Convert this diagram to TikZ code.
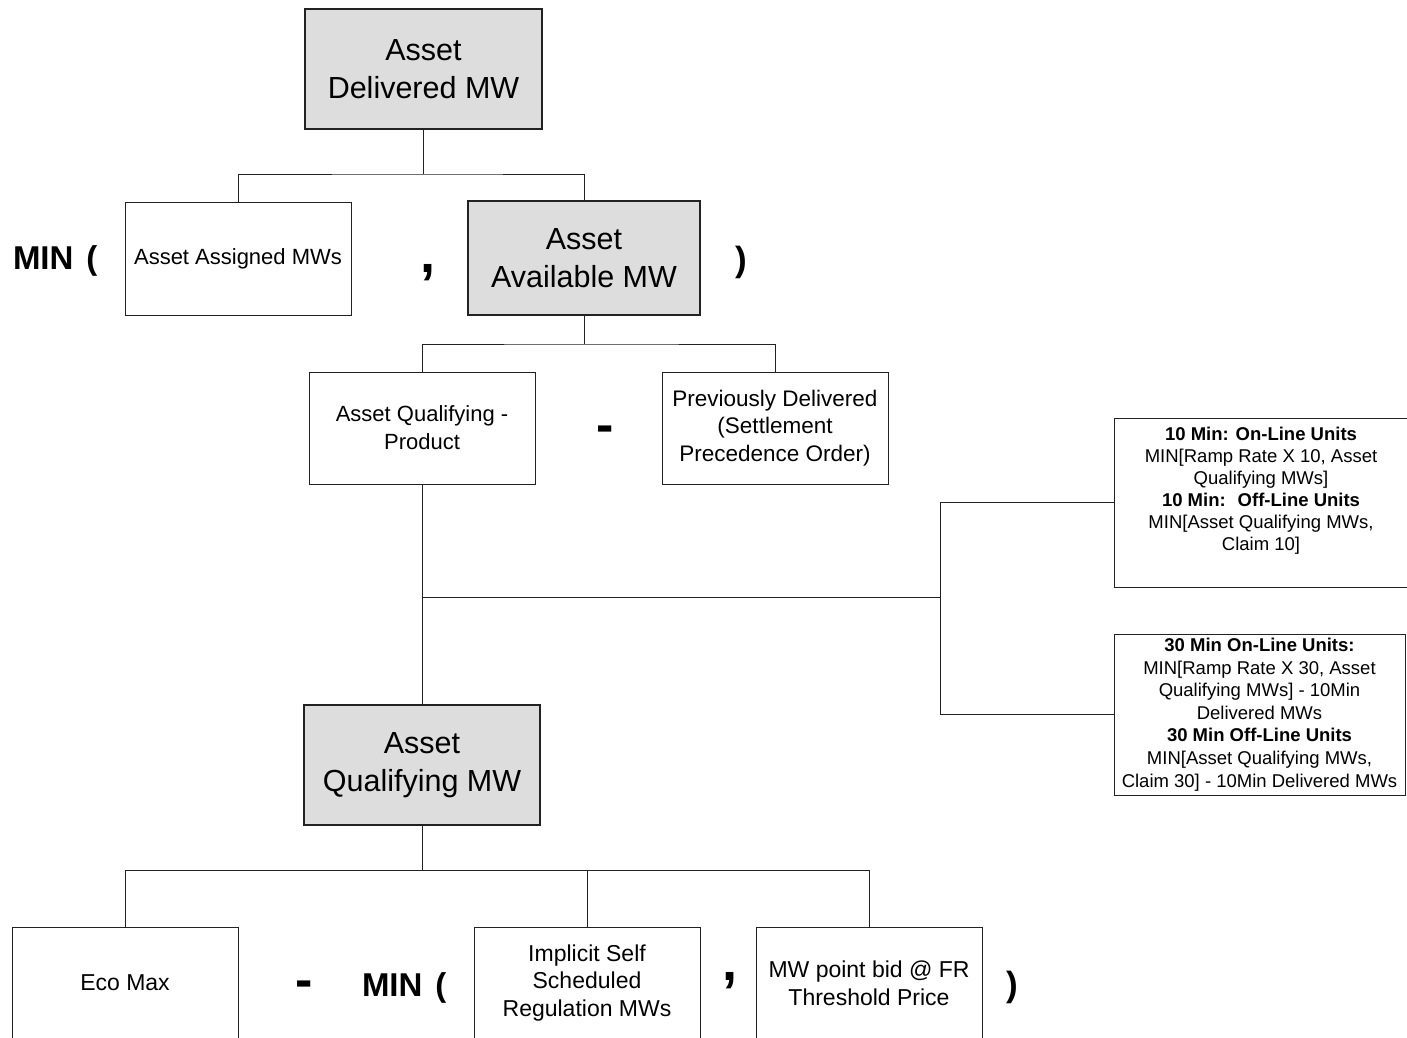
\documentclass[tikz,border=0pt]{standalone}
\usepackage{fontspec}
\setmainfont{Liberation Sans}
\definecolor{boxgray}{HTML}{DDDDDD}
\definecolor{linegray}{HTML}{222222}
\begin{document}
\begin{tikzpicture}[x=1pt,y=-1pt,
  every node/.style={inner sep=0pt, outer sep=0pt, align=center},
  sz/.style 2 args={font=\fontsize{#1}{#2}\selectfont},
  dims/.style 2 args={minimum width=#1, minimum height=#2},
  graybox/.style={draw=linegray, line width=2.4pt, fill=boxgray, sz={30.5}{38}},
  plainbox/.style={draw=linegray, line width=1pt, fill=white},
  conn/.style={draw=linegray, line width=1pt},
  op/.style={font=\bfseries\fontsize{#1}{#1}\selectfont, anchor=base},
]
\useasboundingbox (0,0) rectangle (1407,1037);
\fill[white] (0,0) rectangle (1407,1037);
\clip (0,0) rectangle (1407,1037);

% ---- level 1
\node[graybox, dims={237}{120}] (deliv) at (423.5,69) {Asset\\Delivered MW};

% ---- level 2: MIN( assigned , available )
\node[plainbox, dims={226}{113}, sz={22}{27}] (assign) at (238,258.5) {Asset Assigned MWs};
\node[graybox, dims={232}{114}] (avail) at (584,258) {Asset\\Available MW};
\node[op=33, anchor=base west] (min1) at (13,269) {MIN\hspace{13pt}(};
\node[op=54] (comma1) at (428,272) {,};
\node[op=35] (close1) at (741,271) {)};

% ---- level 3: qualifying product - previously delivered
\node[plainbox, dims={226}{112}, sz={22}{28}] (aqp) at (422,428) {Asset Qualifying -\\Product};
\node[plainbox, dims={226}{112}, sz={22.5}{27.5}] (prev) at (775,428) {Previously Delivered\\(Settlement\\Precedence Order)};
\node[op=52] (minus1) at (605,442) {-};

% ---- reserve product boxes
\node[plainbox, dims={296}{169}] (ten) at (1262,502.5) {};
\node[sz={18.5}{22}] (tentext) at (1261,491) {\textbf{10 Min: On-Line Units}\\MIN[Ramp Rate X 10, Asset\\Qualifying MWs]\\\textbf{10 Min:~ Off-Line Units}\\MIN[Asset Qualifying MWs,\\Claim 10]};
\node[plainbox, dims={291}{161}, sz={18.5}{22.6}] (thirty) at (1259.5,714.5) {\textbf{30 Min On-Line Units:}\\MIN[Ramp Rate X 30, Asset\\Qualifying MWs] - 10Min\\Delivered MWs\\\textbf{30 Min Off-Line Units}\\MIN[Asset Qualifying MWs,\\Claim 30] - 10Min Delivered MWs};

% ---- level 4
\node[graybox, dims={236}{120}] (aqmw) at (422,765) {Asset\\Qualifying MW};

% ---- level 5: eco max - MIN( implicit , point bid )
\node[plainbox, dims={226}{112}, sz={23}{27.5}] (eco) at (125,983) {Eco Max};
\node[plainbox, dims={226}{112}, sz={23}{27.5}] (impl) at (587,983) {Implicit Self\\Scheduled\\Regulation MWs};
\node[plainbox, dims={226}{112}, sz={23}{28}] (bid) at (869,983) {MW point bid @ FR\\Threshold Price};
\node[op=52] (minus2) at (304,997.5) {-};
\node[op=33, anchor=base west] (min2) at (362,996) {MIN\hspace{13pt}(};
\node[op=54] (comma2) at (730,980) {,};
\node[op=35] (close2) at (1012,996) {)};

% ---- connectors
\coordinate (j1) at (423.5,174);
\draw[conn] (deliv.south) -- (j1);
\draw[conn] (assign.north) |- (j1) -| (avail.north);

\coordinate (j2) at (584,344);
\draw[conn] (avail.south) -- (j2);
\draw[conn] (aqp.north) |- (j2) -| (prev.north);

\coordinate (j3) at (422,597);
\coordinate (j4) at (940,597);
\draw[conn] (aqp.south) -- (aqmw.north);
\draw[conn] (j3) -- (j4);
\draw[conn] (ten.west) -| (j4);
\draw[conn] (thirty.west) -| (j4);

\coordinate (j5) at (422,870);
\draw[conn] (aqmw.south) -- (j5);
\draw[conn] (eco.north) |- (j5) -| (bid.north);
\draw[conn] (impl.north) -- (impl.north |- j5);
\end{tikzpicture}
\end{document}
